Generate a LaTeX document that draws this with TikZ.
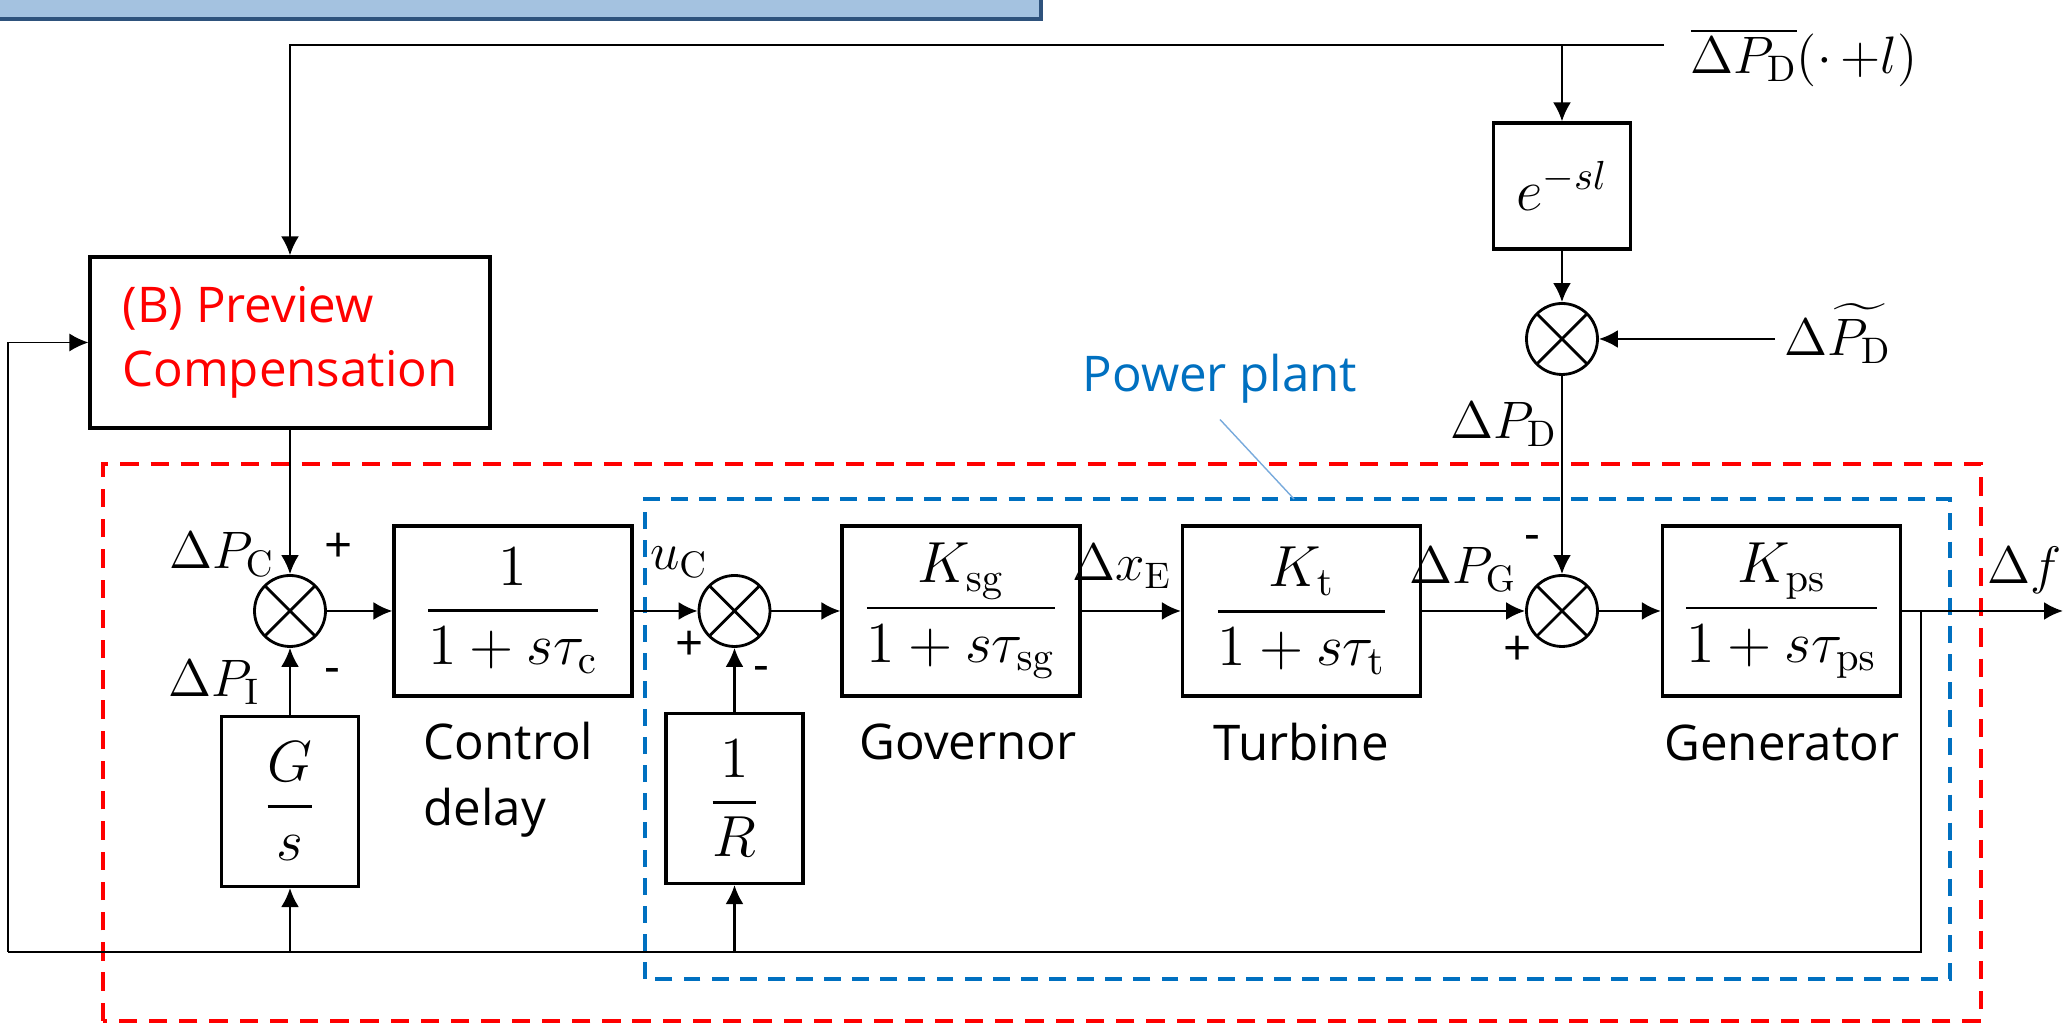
\RequirePackage{fix-cm}
\documentclass[tikz,border=0pt]{standalone}
\usepackage[no-math]{fontspec}
\newfontfamily\plainsans{Open Sans}
\usepackage{amsmath}
\usetikzlibrary{positioning,arrows.meta}
\definecolor{framered}{RGB}{255,0,0}
\definecolor{plantblue}{RGB}{0,112,192}
\definecolor{leaderblue}{RGB}{120,170,220}
\definecolor{barfill}{RGB}{164,194,224}
\definecolor{barline}{RGB}{46,82,124}

\begin{document}
\begin{tikzpicture}[
            blockbox/.style={rectangle, draw=black, line width=0.9pt, minimum width=2.38cm, minimum height=1.70cm, inner sep=1pt, font=\fontsize{16.5}{19}\selectfont},
            gainbox/.style={blockbox, minimum width=1.37cm},
            sumnode/.style={circle, draw=black, line width=0.8pt, minimum size=0.71cm, inner sep=0pt,
                path picture={\draw[line width=0.8pt] (path picture bounding box.north west) -- (path picture bounding box.south east)
                    (path picture bounding box.north east) -- (path picture bounding box.south west);}},
            sigline/.style={-{Latex[length=1.9mm,width=1.8mm]}, line width=0.7pt},
            wire/.style={line width=0.7pt},
            lbl/.style={font=\fontsize{15}{18}\selectfont, inner sep=0pt},
            signlbl/.style={font=\plainsans\fontsize{14}{17}\selectfont, inner sep=0pt},
            blocktitle/.style={font=\plainsans\fontsize{14}{19}\selectfont, inner sep=0pt}
        ]
        \useasboundingbox (0,0) rectangle (20.71,10.31);
        \clip (0,0) rectangle (20.71,10.31);

        % Cut-off title bar
        \draw[fill=barfill, draw=barline, line width=1.4pt] (-0.5,10.12) rectangle (10.41,11);

        % Dashed frames
        \draw[draw=framered, line width=1.05pt, dash pattern=on 5.2pt off 3.4pt] (1.03,0.10) rectangle (19.81,5.67);
        \draw[draw=plantblue, line width=0.9pt, dash pattern=on 4.8pt off 3.2pt] (6.45,0.52) rectangle (19.50,5.32);

        % Preview path
        \node[blockbox, minimum width=4.0cm, minimum height=1.71cm, font=\plainsans\fontsize{14}{18}\selectfont, text=red, align=left] (preview) at (2.90,6.885) {(B) Preview\\Compensation};
        \node[gainbox, minimum height=1.26cm] (preshift) at (15.62,8.45) {$e^{-sl}$};
        \node[sumnode] (sumdist) at (15.62,6.92) {};
        \coordinate (dpdin) at (16.64,9.86);
        \coordinate (dpdtap) at (15.62,9.86);
        \coordinate (dtilde) at (17.75,6.92);

        % Main loop
        \node[sumnode] (sumctrl) at (2.90,4.20) {};
        \node[blockbox] (ctrldelay) at (5.13,4.20) {$\dfrac{1}{1+s\tau_{\mathrm{c}}}$};
        \node[sumnode] (sumgov) at (7.345,4.20) {};
        \node[blockbox] (governor) at (9.61,4.20) {$\dfrac{K_{\mathrm{sg}}}{1+s\tau_{\mathrm{sg}}}$};
        \node[blockbox] (turbine) at (13.015,4.20) {$\dfrac{K_{\mathrm{t}}}{1+s\tau_{\mathrm{t}}}$};
        \node[sumnode] (sumplant) at (15.62,4.20) {};
        \node[blockbox] (generator) at (17.815,4.20) {$\dfrac{K_{\mathrm{ps}}}{1+s\tau_{\mathrm{ps}}}$};
        \node[gainbox] (integral) at (2.90,2.295) {$\dfrac{G}{s}$};
        \node[gainbox] (droop) at (7.345,2.325) {$\dfrac{1}{R}$};
        \coordinate (fout) at (20.63,4.20);
        \coordinate (ftap) at (19.21,4.20);
        \coordinate (fbcorner) at (0.08,0.79);

        \draw[sigline] (dpdin) -| (preview);
        \draw[sigline] (dpdtap) -- (preshift);
        \draw[sigline] (preshift) -- (sumdist);
        \draw[sigline] (dtilde) -- (sumdist);
        \draw[sigline] (sumdist) -- (sumplant);
        \draw[sigline] (preview) -- (sumctrl);
        \draw[sigline] (sumctrl) -- (ctrldelay);
        \draw[sigline] (ctrldelay) -- (sumgov);
        \draw[sigline] (sumgov) -- (governor);
        \draw[sigline] (governor) -- (turbine);
        \draw[sigline] (turbine) -- (sumplant);
        \draw[sigline] (sumplant) -- (generator);
        \draw[sigline] (generator) -- (fout);
        \draw[wire] (ftap) |- (fbcorner);
        \draw[sigline, line width=0.45pt] (fbcorner) |- (preview);
        \draw[sigline] (integral |- fbcorner) -- (integral);
        \draw[sigline] (droop |- fbcorner) -- (droop);
        \draw[sigline] (integral) -- (sumctrl);
        \draw[sigline] (droop) -- (sumgov);

        % Signal labels
        \node[lbl, anchor=base] (dpdbar) at (18.04,9.57) {$\overline{\Delta P_{\mathrm{D}}}(\cdot\,{+}l)$};
        \node[lbl, anchor=base] (dptilde) at (18.38,6.75) {$\Delta\widetilde{P_{\mathrm{D}}}$};
        \node[lbl, anchor=base] (dpd) at (15.04,5.92) {$\Delta P_{\mathrm{D}}$};
        \node[lbl, anchor=base] (dpc) at (2.22,4.62) {$\Delta P_{\mathrm{C}}$};
        \node[lbl, anchor=base] (dpi) at (2.14,3.34) {$\Delta P_{\mathrm{I}}$};
        \node[lbl, anchor=base] (uc) at (6.79,4.61) {$u_{\mathrm{C}}$};
        \node[lbl, anchor=base] (dxe) at (11.22,4.50) {$\Delta x_{\mathrm{E}}$};
        \node[lbl, anchor=base] (dpg) at (14.63,4.47) {$\Delta P_{\mathrm{G}}$};
        \node[lbl, anchor=base] (df) at (20.25,4.47) {$\Delta f$};

        % Signs at the junctions
        \node[signlbl] (ctrlplus) at (3.39,4.83) {+};
        \node[signlbl] (ctrlminus) at (3.32,3.55) {-};
        \node[signlbl] (govplus) at (6.90,3.85) {+};
        \node[signlbl] (govminus) at (7.61,3.57) {-};
        \node[signlbl] (plantminus) at (15.32,4.88) {-};
        \node[signlbl] (plantplus) at (15.18,3.80) {+};

        % Block names
        \node[blocktitle, anchor=north west, align=left] (ctrlcap) at (4.23,3.10) {Control\\delay};
        \node[blocktitle, anchor=base] (govcap) at (9.68,2.71) {Governor};
        \node[blocktitle, anchor=base] (turbcap) at (13.01,2.70) {Turbine};
        \node[blocktitle, anchor=base] (gencap) at (17.82,2.70) {Generator};
        \node[blocktitle, text=plantblue, anchor=base] (plantcap) at (12.20,6.39) {Power plant};
        \coordinate (plantend) at (12.94,5.32);
        \draw[draw=leaderblue, line width=0.4pt] ([yshift=-0.15cm]plantcap.south) -- (plantend);
        \end{tikzpicture}
\end{document}
